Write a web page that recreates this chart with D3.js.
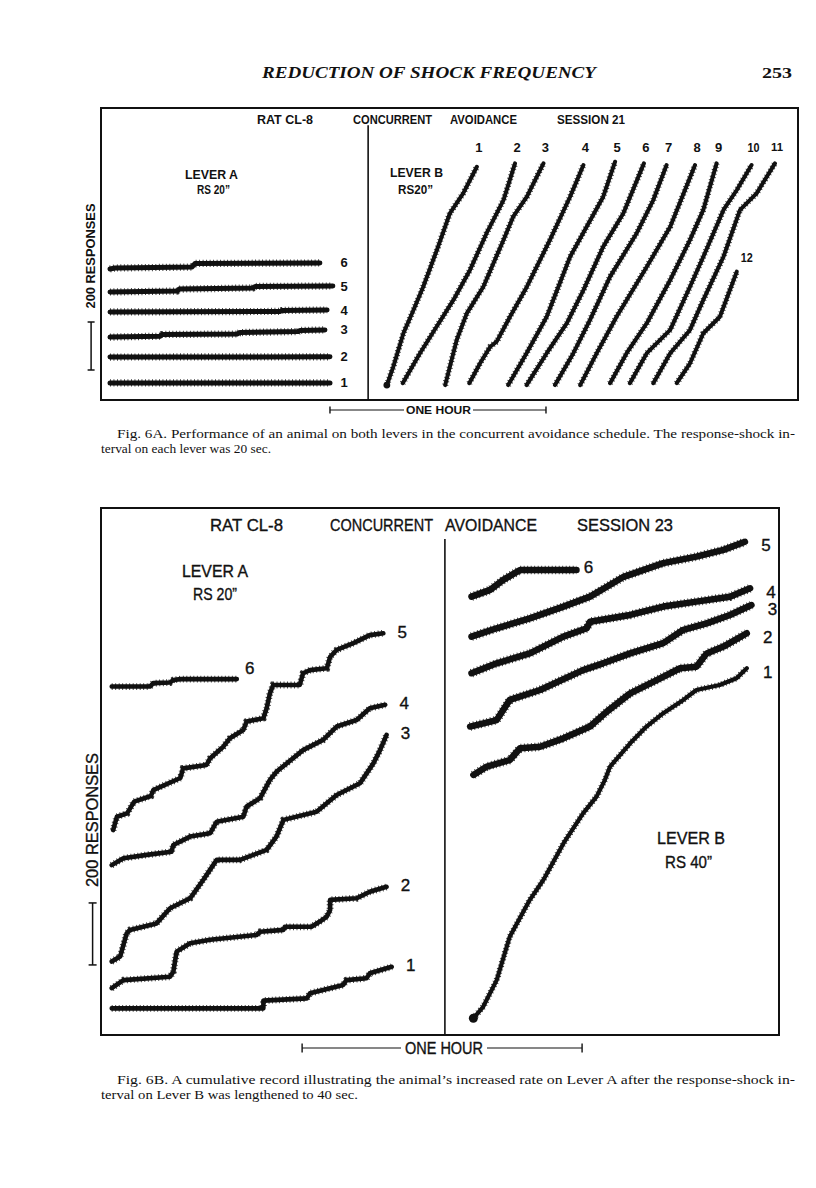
<!DOCTYPE html>
<html><head><meta charset="utf-8">
<script src="https://cdn.jsdelivr.net/npm/d3@7"></script>
<style>body{margin:0;background:#fff}</style>
</head><body>
<svg id="page" width="816" height="1188"></svg>
<script>
// ---------- DATA (x = minutes from panel left, y = cumulative responses from panel bottom) ----------
const labelsA6_leverA = ["1","2","3","4","5","6"];
const fig6A_leverA = [
  [[2.5,71],[63.6,71]],
  [[2.5,179],[63.6,180]],
  [[2.5,262],[16.4,266],[17,273],[37.8,275],[38.6,281],[54.7,285],[55.3,290],[62.2,292]],
  [[2.5,367],[49.7,369],[50.3,373],[62.8,375]],
  [[2.5,450],[21.1,454],[21.7,462],[42.2,467],[42.8,473],[64.4,475]],
  [[2.5,546],[3.9,550],[25.3,554],[26.1,569],[60.8,571]]
];
const labelsA6_leverB = ["1","2","3","4","5","6","7","8","9","10","11","12"];
const fig6A_leverB = [
  [[79.4,62],[81.2,139],[84.0,278],[86.8,375],[89.5,472],[93.3,625],[94.6,680],[96.9,778],[100.6,861],[104.4,972]],
  [[83.8,70],[88.6,195],[93.2,305],[97.9,417],[102.5,542],[107.1,695],[111.8,833],[115.0,986]],
  [[95.6,62],[98.8,250],[101.6,361],[106.2,472],[111.8,667],[114.5,764],[118.3,847],[122.9,986]],
  [[102.3,70],[105.3,153],[108.1,222],[109.9,243],[113.6,347],[118.3,472],[124.7,667],[130.3,847],[134.0,979]],
  [[113.1,62],[118.2,195],[123.8,347],[130.3,597],[134.9,722],[139.5,847],[142.8,993]],
  [[118.2,62],[123.8,195],[129.4,320],[134.0,458],[139.5,639],[145.1,778],[150.8,986]],
  [[126.1,62],[131.2,195],[135.8,333],[141.4,514],[148.8,695],[153.4,833],[157.1,979]],
  [[133.1,62],[137.7,195],[143.2,347],[151.6,555],[158.1,722],[165.0,979]],
  [[141.4,70],[146.0,195],[151.6,320],[158.1,500],[163.6,667],[167.3,792],[171.0,986]],
  [[146.9,70],[151.6,195],[158.1,292],[163.6,472],[167.3,597],[172.9,792],[176.6,875],[180.7,979]],
  [[153.4,70],[158.1,195],[163.6,292],[167.3,417],[172.9,597],[177.5,792],[182.1,861],[187.2,986]],
  [[159.9,70],[163.6,153],[167.3,278],[171.9,347],[176.6,535]]
];
const labelsB6_leverA = ["1","2","3","4","5","6"];
const fig6B_leverA = [
  [[2.3,86],[34.8,86],[34.8,111],[44.1,118],[44.8,135],[51.9,161],[52.6,177],[56.9,183],[57.6,199],[62.3,220]],
  [[2.3,151],[4.8,177],[14.8,188],[15.5,204],[16.2,269],[19.1,296],[23.4,307],[33.4,323],[34.1,333],[39.1,339],[39.4,349],[45.1,349],[46.9,366],[48.4,382],[49.1,403],[49.1,436],[54.8,441],[57.6,462],[61.2,478]],
  [[2.3,237],[4.1,253],[5.5,328],[6.2,339],[11.9,360],[14.8,409],[19.1,441],[21.9,500],[24.8,565],[29.8,565],[35.5,597],[37.6,640],[39.1,694],[46.2,720],[50.5,774],[55.5,812],[58.4,877],[59.8,919],[61.2,968]],
  [[2.3,548],[4.8,570],[9.8,581],[15.1,591],[15.5,613],[19.1,640],[23.4,651],[24.8,688],[30.5,704],[31.2,737],[34.1,764],[36.2,823],[37.6,849],[43.3,919],[47.6,952],[50.5,995],[54.8,1016],[57.6,1054],[60.9,1065]],
  [[2.6,661],[3.4,704],[5.6,715],[7.1,753],[10.7,771],[11.2,790],[17.0,829],[17.6,860],[22.6,871],[23.4,893],[26.2,930],[27.6,957],[30.5,984],[31.2,1011],[34.8,1022],[35.5,1054],[36.2,1102],[36.9,1129],[42.6,1129],[43.3,1167],[44.8,1177],[48.4,1183],[49.1,1220],[50.5,1242],[54.1,1264],[57.6,1290],[60.5,1296]],
  [[2.3,1124],[10.5,1124],[11.2,1135],[14.8,1137],[15.5,1145],[17.0,1148],[29.1,1148]]
];
const labelsB6_leverB = ["1","2","3","4","5","6"];
const fig6B_leverB = [
  [[79.8,54],[81.9,91],[84.8,177],[87.6,317],[91.9,436],[94.8,500],[99.1,618],[103.3,715],[106.2,769],[108.0,823],[109.1,866],[113.4,941],[116.9,995],[120.5,1038],[124.8,1081],[127.6,1113],[132.6,1129],[136.2,1151],[138.4,1183]],
  [[79.8,839],[82.7,866],[87.6,887],[89.8,925],[94.1,930],[99.1,957],[104.8,995],[108.4,1043],[113.4,1102],[119.1,1145],[124.1,1183],[127.6,1188],[129.8,1231],[133.4,1253],[138.4,1296]],
  [[79.1,995],[84.8,1016],[87.6,1081],[94.1,1113],[103.3,1177],[107.6,1199],[113.4,1231],[120.5,1264],[124.8,1307],[129.8,1328],[134.8,1355],[139.4,1387]],
  [[79.4,1167],[84.8,1199],[91.9,1231],[99.1,1285],[104.1,1312],[104.8,1333],[113.4,1355],[120.5,1382],[127.6,1398],[134.8,1414],[139.1,1441]],
  [[79.4,1285],[84.8,1312],[91.9,1344],[99.1,1382],[104.8,1414],[108.4,1446],[112.0,1478],[120.5,1522],[127.6,1543],[133.4,1565],[138.0,1591]],
  [[79.4,1414],[83.4,1436],[86.2,1468],[89.8,1500],[91.9,1500],[101.9,1500]]
];
// scale markers: 200 responses, one hour (60 min)
const scaleResponses = 200;
const scaleMinutes = 60;

// ---------- DRAWING ----------
const svg = d3.select("#page");
svg.append("rect").attr("width",816).attr("height",1188).attr("fill","#fff");
const INK = "#111";
const SANS = "'Liberation Sans', Arial, sans-serif";
const SERIF = "'Liberation Serif', 'Times New Roman', serif";

function txt(x, y, s, o) {
  o = o || {};
  const t = svg.append("text").attr("x", x).attr("y", y).text(s)
    .attr("font-family", o.family || SANS)
    .attr("font-size", o.size || 12)
    .attr("font-weight", o.weight || "normal")
    .attr("font-style", o.style || "normal")
    .attr("fill", INK)
    .attr("text-anchor", o.anchor || "middle")
    .attr("dominant-baseline", o.baseline || "central");
  if (o.len) t.attr("textLength", o.len).attr("lengthAdjust", "spacingAndGlyphs");
  if (o.rotate) t.attr("transform", `rotate(${o.rotate},${x},${y})`);
  if (o.stroke) t.attr("stroke", INK).attr("stroke-width", o.stroke);
  return t;
}

// Page header
txt(262, 78, "REDUCTION OF SHOCK FREQUENCY", {family: SERIF, size: 16, weight: "bold", style: "italic", anchor: "start", baseline: "alphabetic", len: 334});
txt(762, 78, "253", {family: SERIF, size: 15, weight: "bold", anchor: "start", baseline: "alphabetic", len: 30});

function panel(cfg) {
  const x = d3.scaleLinear().domain(cfg.xDomain).range(cfg.xRange);
  const y = d3.scaleLinear().domain(cfg.yDomain).range(cfg.yRange);
  const g = svg.append("g");
  g.append("rect").attr("x", x(cfg.xDomain[0])).attr("y", y(cfg.yDomain[1]))
    .attr("width", x(cfg.xDomain[1]) - x(cfg.xDomain[0]))
    .attr("height", y(cfg.yDomain[0]) - y(cfg.yDomain[1]))
    .attr("fill", "none").attr("stroke", INK).attr("stroke-width", 2);
  g.append("line").attr("x1", x(cfg.divider)).attr("x2", x(cfg.divider))
    .attr("y1", y(cfg.dividerTop)).attr("y2", y(0))
    .attr("stroke", INK).attr("stroke-width", 1.6);
  const line = d3.line().x(d => x(d[0])).y(d => y(d[1]));
  function traces(data, widthFn) {
    data.forEach((pts, i) => {
      const w = widthFn(i);
      g.append("path").attr("d", line(pts)).attr("fill", "none").attr("stroke", INK)
        .attr("stroke-width", w).attr("stroke-linejoin", "round").attr("stroke-linecap", "round");
      // hatch texture of the recorder pen
      g.append("path").attr("d", line(pts)).attr("fill", "none")
        .attr("stroke", INK).attr("stroke-width", w + 2.2).attr("stroke-dasharray", "0.9 2.6")
        .attr("opacity", 0.85);
    });
  }
  traces(cfg.leverA, cfg.wA);
  traces(cfg.leverB, cfg.wB);
  return {x, y, g};
}

// ---------- Fig 6A ----------
const pA = panel({
  xDomain: [0, 193.6], xRange: [101, 798],
  yDomain: [0, 1216.7], yRange: [400, 108],
  divider: 74.2, dividerTop: 1145,
  leverA: fig6A_leverA, leverB: fig6A_leverB, wA: () => 5, wB: () => 4
});
svg.append("circle").attr("cx", pA.x(fig6A_leverB[0][0][0])).attr("cy", pA.y(fig6A_leverB[0][0][1])).attr("r", 3.4).attr("fill", INK);
const bA = {size: 12.5, weight: "bold"};
txt(285, 120, "RAT CL-8", {...bA, len: 56});
txt(392.5, 120, "CONCURRENT", {...bA, len: 79});
txt(483.5, 120, "AVOIDANCE", {...bA, len: 67});
txt(591, 120, "SESSION 21", {...bA, len: 68});
txt(211.5, 175, "LEVER A", {...bA, len: 53});
txt(213.5, 190, "RS 20\u201D", {...bA, len: 33});
txt(416.5, 173, "LEVER B", {...bA, len: 53});
txt(415.5, 190, "RS20\u201D", {...bA, len: 35});
fig6A_leverA.forEach((pts, i) => {
  const e = pts[pts.length - 1];
  txt(344, pA.y(e[1]), labelsA6_leverA[i], {...bA, size: 13});
});
fig6A_leverB.forEach((pts, i) => {
  const e = pts[pts.length - 1];
  if (i < 11) txt(pA.x(e[0]) + 2, 147, labelsA6_leverB[i], {...bA, size: i === 10 ? 11 : 13, len: i >= 9 ? 12 : null});
  else txt(pA.x(e[0]) + 10, pA.y(e[1]) - 14, labelsA6_leverB[i], {...bA, size: 12.5, len: 12});
});
function respBar(p, x0, r0, serif) {
  const yTop = p.y(r0 + scaleResponses), yBot = p.y(r0);
  const xx = p.x(x0);
  svg.append("line").attr("x1", xx).attr("x2", xx).attr("y1", yTop).attr("y2", yBot).attr("stroke", INK).attr("stroke-width", 1.5);
  [yTop, yBot].forEach(yy => svg.append("line").attr("x1", xx - serif).attr("x2", xx + serif).attr("y1", yy).attr("y2", yy).attr("stroke", INK).attr("stroke-width", 1.5));
}
respBar(pA, -2.75, 125, 3.5);
txt(91, 256, "200 RESPONSES", {...bA, size: 12, rotate: -90, len: 105});
function hourBar(p, m0, yy, gapL, gapR, tick) {
  const xl = p.x(m0), xr = p.x(m0 + scaleMinutes);
  svg.append("line").attr("x1", xl).attr("x2", gapL).attr("y1", yy).attr("y2", yy).attr("stroke", INK).attr("stroke-width", 1.2);
  svg.append("line").attr("x1", gapR).attr("x2", xr).attr("y1", yy).attr("y2", yy).attr("stroke", INK).attr("stroke-width", 1.2);
  [xl, xr].forEach(xx => svg.append("line").attr("x1", xx).attr("x2", xx).attr("y1", yy - tick).attr("y2", yy + tick).attr("stroke", INK).attr("stroke-width", 1.4));
}
hourBar(pA, 63.6, 410, 404, 473, 3.5);
txt(438.5, 410, "ONE HOUR", {...bA, size: 11.5, len: 65});
txt(117, 438, "Fig. 6A. Performance of an animal on both levers in the concurrent avoidance schedule. The response-shock in-", {family: SERIF, size: 13, anchor: "start", baseline: "alphabetic", len: 678});
txt(101, 453, "terval on each lever was 20 sec.", {family: SERIF, size: 13, anchor: "start", baseline: "alphabetic", len: 170});

// ---------- Fig 6B ----------
const pB = panel({
  xDomain: [0, 145.3], xRange: [101, 779],
  yDomain: [0, 1700], yRange: [1035, 508],
  divider: 73.7, dividerTop: 1600,
  leverA: fig6B_leverA, leverB: fig6B_leverB, wA: () => 4.6, wB: i => (i === 0 ? 4.2 : 6.5)
});
svg.append("circle").attr("cx", pB.x(fig6B_leverB[0][0][0])).attr("cy", pB.y(fig6B_leverB[0][0][1])).attr("r", 4.5).attr("fill", INK);
const rB = {size: 17, stroke: 0.35};
txt(246.5, 525, "RAT CL-8", {...rB, len: 73});
txt(381.5, 525, "CONCURRENT", {...rB, len: 103});
txt(491, 525, "AVOIDANCE", {...rB, len: 92});
txt(625, 525, "SESSION 23", {...rB, len: 96});
txt(215, 571, "LEVER A", {...rB, len: 66});
txt(215, 594, "RS 20\u201D", {...rB, len: 44});
txt(691, 838, "LEVER B", {...rB, len: 68});
txt(688.5, 862, "RS 40\u201D", {...rB, len: 47});
fig6B_leverA.forEach((pts, i) => {
  const e = pts[pts.length - 1];
  const dx = i === 5 ? 13 : 19, dy = i === 5 ? -11 : -1;
  txt(pB.x(e[0]) + dx, pB.y(e[1]) + dy, labelsB6_leverA[i], {...rB, size: 17});
});
fig6B_leverB.forEach((pts, i) => {
  const e = pts[pts.length - 1];
  const dx = i === 5 ? 12 : 21, dy = i === 5 ? -3 : 4;
  txt(pB.x(e[0]) + dx, pB.y(e[1]) + dy, labelsB6_leverB[i], {...rB, size: 17});
});
respBar(pB, -1.8, 226, 4);
txt(92, 820, "200 RESPONSES", {...rB, rotate: -90, len: 134});
hourBar(pB, 43.1, 1048, 401, 487, 4.5);
txt(444, 1048, "ONE HOUR", {...rB, size: 16.5, len: 78});
txt(117, 1084, "Fig. 6B. A cumulative record illustrating the animal\u2019s increased rate on Lever A after the response-shock in-", {family: SERIF, size: 13, anchor: "start", baseline: "alphabetic", len: 678});
txt(101, 1099, "terval on Lever B was lengthened to 40 sec.", {family: SERIF, size: 13, anchor: "start", baseline: "alphabetic", len: 257});
</script>
</body></html>
